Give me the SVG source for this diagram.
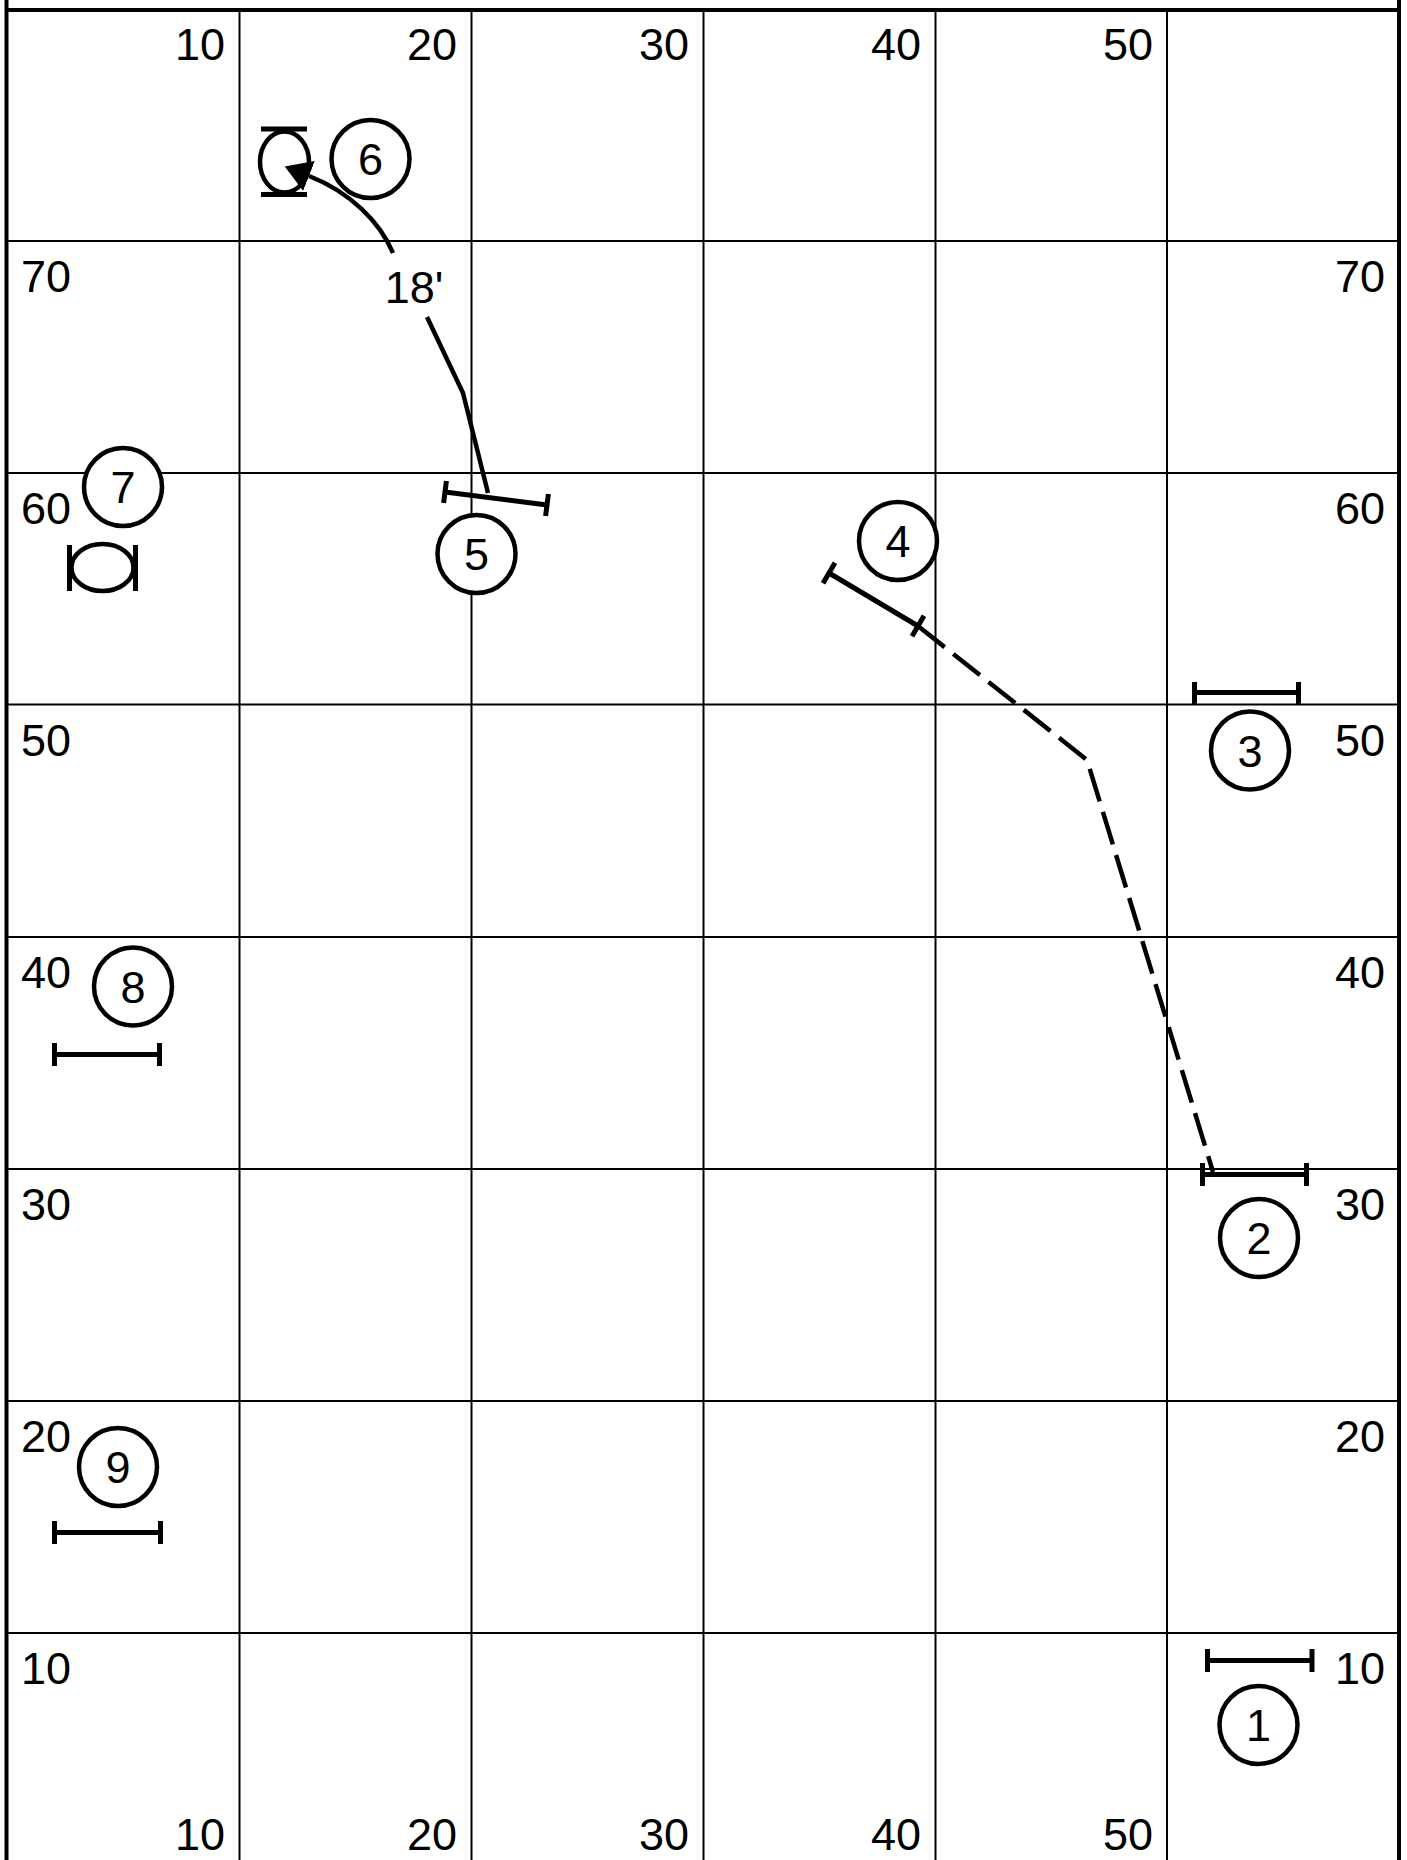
<svg xmlns="http://www.w3.org/2000/svg" width="1407" height="1860" viewBox="0 0 1407 1860">
<style>
.grid{stroke:#000;stroke-width:2;fill:none}
.border{stroke:#000;stroke-width:4;fill:none}
.lbl{font-family:"Liberation Sans",Arial,sans-serif;font-size:45px;fill:#000}
.end{text-anchor:end}
.num{font-family:"Liberation Sans",Arial,sans-serif;font-size:45px;fill:#000;text-anchor:middle}
.ring{fill:#fff;stroke:#000;stroke-width:4.5}
.bar{stroke:#000;stroke-width:5;fill:none;stroke-linecap:butt}
.tire{fill:none;stroke:#000;stroke-width:4.5}
.path{stroke:#000;stroke-width:4.5;fill:none}
.dash{stroke-dasharray:34 11}
</style>
<defs>
<marker id="arrow" markerUnits="userSpaceOnUse" viewBox="0 0 26 32" markerWidth="26" markerHeight="32" refX="0" refY="16" orient="auto">
<path d="M0,0 L26,16 L0,32 z" fill="#000"/>
</marker>
</defs>
<rect width="1407" height="1860" fill="#fff"/>
<g id="grid">
<line class="border" x1="6.5" y1="0" x2="6.5" y2="1860"/>
<line class="border" x1="1399" y1="0" x2="1399" y2="1860"/>
<line class="border" x1="6.5" y1="10" x2="1399" y2="10"/>
<line class="grid" x1="239.5" y1="10" x2="239.5" y2="1860"/>
<line class="grid" x1="471.5" y1="10" x2="471.5" y2="1860"/>
<line class="grid" x1="703.5" y1="10" x2="703.5" y2="1860"/>
<line class="grid" x1="935.5" y1="10" x2="935.5" y2="1860"/>
<line class="grid" x1="1167" y1="10" x2="1167" y2="1860"/>
<line class="grid" x1="6.5" y1="241" x2="1399" y2="241"/>
<line class="grid" x1="6.5" y1="473" x2="1399" y2="473"/>
<line class="grid" x1="6.5" y1="704.5" x2="1399" y2="704.5"/>
<line class="grid" x1="6.5" y1="937" x2="1399" y2="937"/>
<line class="grid" x1="6.5" y1="1169" x2="1399" y2="1169"/>
<line class="grid" x1="6.5" y1="1401" x2="1399" y2="1401"/>
<line class="grid" x1="6.5" y1="1633" x2="1399" y2="1633"/>
</g>
<g id="labels">
<text class="lbl end" x="225" y="60">10</text>
<text class="lbl end" x="457" y="60">20</text>
<text class="lbl end" x="689" y="60">30</text>
<text class="lbl end" x="921" y="60">40</text>
<text class="lbl end" x="1153" y="60">50</text>
<text class="lbl end" x="225" y="1850">10</text>
<text class="lbl end" x="457" y="1850">20</text>
<text class="lbl end" x="689" y="1850">30</text>
<text class="lbl end" x="921" y="1850">40</text>
<text class="lbl end" x="1153" y="1850">50</text>
<text class="lbl" x="21" y="292">70</text>
<text class="lbl" x="21" y="524">60</text>
<text class="lbl" x="21" y="756">50</text>
<text class="lbl" x="21" y="988">40</text>
<text class="lbl" x="21" y="1220">30</text>
<text class="lbl" x="21" y="1452">20</text>
<text class="lbl" x="21" y="1684">10</text>
<text class="lbl end" x="1385" y="292">70</text>
<text class="lbl end" x="1385" y="524">60</text>
<text class="lbl end" x="1385" y="756">50</text>
<text class="lbl end" x="1385" y="988">40</text>
<text class="lbl end" x="1385" y="1220">30</text>
<text class="lbl end" x="1385" y="1452">20</text>
<text class="lbl end" x="1385" y="1684">10</text>
</g>
<g id="connectors">
<path class="path" d="M488,493 L463,393 L427,317"/>
<path class="path" d="M393,253 C380,222 350,192 309,176" marker-end="url(#arrow)"/>
<text class="num" x="414" y="303">18'</text>
<path class="path dash" d="M918,626 L1087,760 L1213,1172"/>
</g>
<g id="obstacle-1">
<path class="bar" d="M1207.5,1660.5 H1312 M1207.5,1649 V1672 M1312,1649 V1672"/>
<circle class="ring" cx="1258.5" cy="1725" r="39"/>
<text class="num" x="1258.5" y="1741">1</text>
</g>
<g id="obstacle-2">
<path class="bar" d="M1202.5,1174.5 H1306.5 M1202.5,1163 V1186 M1306.5,1163 V1186"/>
<circle class="ring" cx="1259" cy="1238" r="39"/>
<text class="num" x="1259" y="1254">2</text>
</g>
<g id="obstacle-3">
<path class="bar" d="M1194.5,692.5 H1298.5 M1194.5,682 V704 M1298.5,682 V704"/>
<circle class="ring" cx="1250" cy="750.5" r="39"/>
<text class="num" x="1250" y="766.5">3</text>
</g>
<g id="obstacle-4">
<path class="bar" d="M829,573 L918,626 M835,562.7 L823,583.3 M924,615.7 L912,636.3"/>
<circle class="ring" cx="898" cy="541" r="39"/>
<text class="num" x="898" y="557">4</text>
</g>
<g id="obstacle-5">
<path class="bar" d="M445,492 L547,505 M446.4,481 L443.6,503 M548.4,494 L545.6,516"/>
<circle class="ring" cx="476.5" cy="554" r="39"/>
<text class="num" x="476.5" y="570">5</text>
</g>
<g id="obstacle-6">
<ellipse class="tire" cx="284.5" cy="162" rx="24.5" ry="30.5"/>
<path class="bar" d="M261,129 H307 M261,194.5 H307"/>
<circle class="ring" cx="370.5" cy="159" r="39"/>
<text class="num" x="370.5" y="175">6</text>
</g>
<g id="obstacle-7">
<ellipse class="tire" cx="102.5" cy="567.5" rx="31" ry="23.5"/>
<path class="bar" d="M69.5,545 V591 M135.5,545 V591"/>
<circle class="ring" cx="123" cy="487" r="39"/>
<text class="num" x="123" y="503">7</text>
</g>
<g id="obstacle-8">
<path class="bar" d="M54.5,1054.5 H159.5 M54.5,1043 V1066 M159.5,1043 V1066"/>
<circle class="ring" cx="133" cy="986.5" r="39"/>
<text class="num" x="133" y="1002.5">8</text>
</g>
<g id="obstacle-9">
<path class="bar" d="M54.5,1532.5 H160.5 M54.5,1521 V1544 M160.5,1521 V1544"/>
<circle class="ring" cx="118" cy="1467" r="39"/>
<text class="num" x="118" y="1483">9</text>
</g>
</svg>
